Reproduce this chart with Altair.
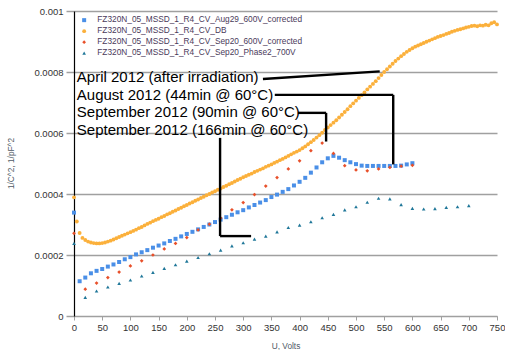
import altair as alt
import pandas as pd

FONT = "Liberation Sans"

series_names = [
    "FZ320N_05_MSSD_1_R4_CV_Aug29_600V_corrected",
    "FZ320N_05_MSSD_1_R4_CV_DB",
    "FZ320N_05_MSSD_1_R4_CV_Sep20_600V_corrected",
    "FZ320N_05_MSSD_1_R4_CV_Sep20_Phase2_700V",
]
series_colors = ["#4a8fe7", "#fbb03b", "#e8502a", "#1f7799"]
series_shapes = ["square", "circle", "diamond", "triangle-up"]
series_sizes = [16, 13, 12, 14]

# Aug29 600V corrected (values in 1e-6)
blue_v = [0] + list(range(10, 610, 10))
blue_y = [339, 114, 126, 140, 148, 154, 162, 169, 177, 186, 193,
          202, 209, 216, 224, 231, 238, 246, 253, 261, 269,
          276, 284, 292, 300, 308, 316, 324, 332, 340, 347,
          356, 364, 372, 380, 390, 398, 407, 416, 428, 440,
          453, 470, 487, 504, 517, 525, 519, 511, 504, 498,
          493, 492, 492, 492, 492, 492, 492, 493, 497, 501]

# DB (values in 1e-6), every 5 V
orange_v = list(range(0, 755, 5))
orange_y = [389, 310, 272, 256, 249, 244, 241, 239, 238, 238,
            239, 241, 244, 247, 251, 255, 259, 263, 267, 271,
            275, 279, 283, 288, 292, 297, 302, 306, 311, 315,
            319, 324, 328, 333, 337, 342, 346, 351, 355, 360,
            364, 369, 373, 378, 382, 387, 391, 396, 400, 405,
            409, 414, 418, 423, 427, 432, 436, 441, 446, 450,
            455, 459, 463, 467, 472, 476, 480, 484, 489, 493,
            497, 502, 506, 511, 515, 520, 525, 530, 535, 539,
            544, 550, 556, 563, 570, 577, 585, 593, 601, 610,
            618, 626, 634, 642, 651, 660, 669, 678, 688, 697,
            706, 715, 724, 733, 743, 752, 761, 770, 780, 790,
            800, 809, 818, 827, 836, 844, 852, 859, 866, 872,
            878, 883, 887, 891, 895, 899, 903, 907, 911, 915,
            918, 921, 925, 928, 932, 935, 938, 940, 943, 946,
            948, 951, 952, 950, 953, 952, 955, 953, 960, 963, 956]

# Sep20 600V corrected (values in 1e-6)
red_v = list(range(0, 620, 20))
red_y = [271, 88, 108, 126, 144, 164, 181, 200, 220, 238, 257,
         282, 301, 321, 348, 372, 398, 426, 454, 482, 509,
         542, 567, 533, 493, 479, 476, 482, 487, 491, 494]

# Sep20 Phase2 700V (values in 1e-6)
teal_v = list(range(0, 720, 20))
teal_y = [238, 61, 82, 95, 107, 118, 131, 143, 156, 168, 180,
          192, 204, 216, 230, 240, 252, 262, 276, 290, 298,
          309, 322, 333, 348, 358, 373, 386, 384, 365, 353,
          351, 352, 356, 358, 362]

x_ticks = list(range(0, 800, 50))
y_ticks = [0, 0.0002, 0.0004, 0.0006, 0.0008, 0.001]

rows = []
for name, vs, ys in zip(series_names, [blue_v, orange_v, red_v, teal_v],
                        [blue_y, orange_y, red_y, teal_y]):
    for v, y in zip(vs, ys):
        rows.append({"U": v, "C": y * 1e-6, "series": name})
df = pd.DataFrame(rows)

# annotations
ann_text = [
    "April 2012 (after irradiation)",
    "August 2012 (44min @ 60°C)",
    "September 2012 (90min @ 60°C)",
    "September 2012 (166min @ 60°C)",
]
ann_x = [5, 5, 5, 5]
ann_y = [0.000766, 0.000708, 0.000651, 0.000593]
ann_df = pd.DataFrame({"U": ann_x, "C": ann_y, "t": ann_text})

seg_x = [335, 356, 566, 397, 447, 259, 259]
seg_y = [0.000777, 0.000725, 0.000725, 0.000666, 0.000666, 0.000584, 0.000262]
seg_x2 = [542, 566, 566, 447, 447, 259, 314]
seg_y2 = [0.000802, 0.000725, 0.000497, 0.000666, 0.000572, 0.000262, 0.000262]
seg_df = pd.DataFrame({"U": seg_x, "C": seg_y, "U2": seg_x2, "C2": seg_y2})

xscale = alt.Scale(domain=[0, 750], nice=False, zero=False)
yscale = alt.Scale(domain=[0, 0.001], nice=False)

xaxis = alt.Axis(values=x_ticks, grid=False, labelOverlap=False, labelFlush=False,
                 tickSize=4, labelPadding=2, domainColor="#a0a0a0",
                 tickColor="#a0a0a0", titleY=25, titleBaseline="top")
yaxis = alt.Axis(values=y_ticks, format="~g", grid=True, gridColor="#a0a0a0",
                 labelOverlap=False, labelFlush=False,
                 gridWidth=1.5, tickSize=8, tickColor="#a0a0a0",
                 tickWidth=1.5, labelPadding=3, domainColor="#000000",
                 domainWidth=1.2, titleX=-63, titleY=152, titleBaseline="middle")

X = alt.X("U:Q", scale=xscale, title="U, Volts", axis=xaxis)
Y = alt.Y("C:Q", scale=yscale, title="1/C^2, 1/pF^2", axis=yaxis)

points = alt.Chart(df).mark_point(filled=True, opacity=1, strokeWidth=0).encode(
    x=X, y=Y,
    color=alt.Color("series:N", scale=alt.Scale(domain=series_names, range=series_colors),
                    legend=alt.Legend(title=None, orient="none", legendX=6, legendY=5,
                                      labelFontSize=8.3, labelColor="#4a3a5a",
                                      symbolSize=12, rowPadding=2, labelOffset=9,
                                      padding=0, labelLimit=400)),
    shape=alt.Shape("series:N", scale=alt.Scale(domain=series_names, range=series_shapes)),
    size=alt.Size("series:N", scale=alt.Scale(domain=series_names, range=series_sizes),
                  legend=None),
    order=alt.Order("series:N", sort="ascending"),
)

segs = alt.Chart(seg_df).mark_rule(color="#000000", strokeWidth=2.4).encode(
    x=X, y=Y, x2="U2:Q", y2="C2:Q"
)

texts = alt.Chart(ann_df).mark_text(align="left", baseline="alphabetic", fontSize=15,
                                    font=FONT, color="#000000").encode(
    x=X, y=Y, text="t:N"
)

chart = alt.layer(points, segs, texts).properties(
    width=423, height=305,
    autosize=alt.AutoSizeParams(type="none"),
    padding={"left": 74, "top": 11, "right": 8, "bottom": 34},
).configure_view(stroke=None).configure_axis(
    labelFont=FONT, titleFont=FONT, labelFontSize=9.5, labelColor="#333333",
    titleFontSize=8.3, titleColor="#505a66", titleFontWeight="normal",
).configure_legend(labelFont=FONT)

chart.save("out.html", embed_options={"renderer": "svg", "actions": False})
